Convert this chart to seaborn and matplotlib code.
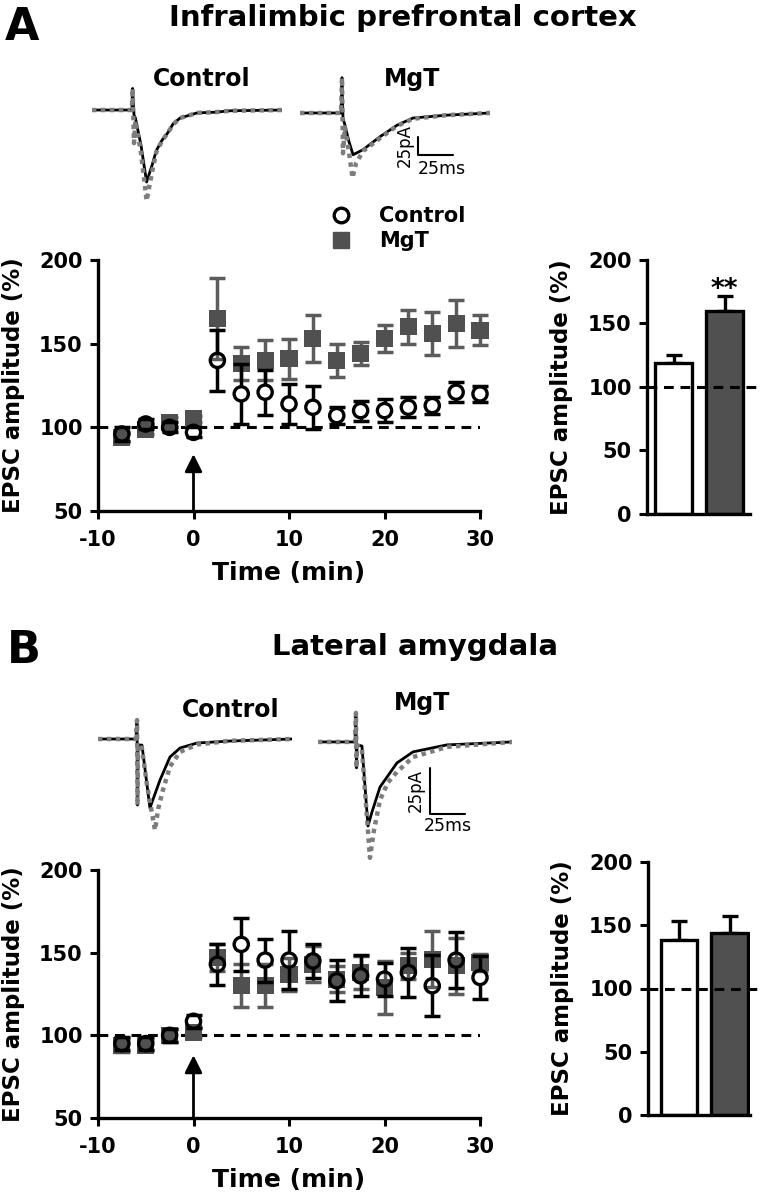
import numpy as np
import matplotlib
matplotlib.use("Agg")
import matplotlib.pyplot as plt
import seaborn as sns
from matplotlib.lines import Line2D

W, H = 761, 1199

# ---- time course data (% of baseline EPSC amplitude) ----
time_min = [-7.5, -5, -2.5, 0, 2.5, 5, 7.5, 10, 12.5, 15, 17.5, 20, 22.5, 25, 27.5, 30]

il_ctrl = [96, 102, 100, 97, 140, 120, 121, 114, 112, 107, 110, 110, 112, 113, 121, 120]
il_ctrl_sem = [4, 3, 3, 3, 18, 18, 13.5, 12, 13, 5, 6, 7, 6, 5, 6, 5]
il_mgt = [94, 99, 103, 105, 165, 138, 140, 141, 153, 140, 144, 153, 160, 156, 162, 158]
il_mgt_sem = [3, 3, 3, 2, 24, 10, 12, 12, 14, 10, 7, 8, 10, 13, 14, 9]

la_ctrl = [95, 95, 100, 108.5, 143, 155, 145.5, 145.5, 145, 133, 136, 134, 138, 130, 145.5, 135]
la_ctrl_sem = [4, 4, 4, 4, 12.5, 16, 13, 17.5, 10.5, 12.5, 12.5, 10, 15, 18.5, 17, 13]
la_mgt = [94, 94, 100, 102, 147, 130, 130, 137, 143, 134, 138, 129, 142, 146, 142, 144]
la_mgt_sem = [4, 3, 4, 3, 8, 13, 13, 10, 11, 8, 10, 16, 8, 17, 17, 5]

# ---- summary bars ----
groups = ["Control", "MgT"]
il_bar = [119, 160]
il_bar_sem = [6, 12]
la_bar = [138, 144]
la_bar_sem = [15.5, 13.5]

# ---- example traces (ms, pA) ----
il_c_t = [0, 28.5, 29, 30, 31, 35, 39, 43, 46, 50, 54, 58, 63, 70, 75, 88, 99, 136]
il_c_black = [0, 0, 30, -7, -11, -49, -100, -76, -56, -42, -32, -19, -11, -7, -4, -3, -1, 0]
il_c_gray = [0, 0, 30, -46, -15, -60, -126, -85, -58, -43, -32, -20, -11, -7, -4, -3, -1, 0]

il_m_t_black = [0, 29.3, 30, 30.7, 32.1, 35, 37.9, 45, 57.1, 69.3, 80.7, 105, 135.7]
il_m_black = [0, 0, 49, -7, -17, -40, -58, -51, -33, -17, -7, -3, 0]
il_m_t_gray = [0, 29.3, 30, 30.7, 32.1, 35, 37.5, 40, 45, 57.1, 69.3, 80.7, 105, 135.7]
il_m_gray = [0, 0, 49, -56, -20, -55, -90, -70, -53, -35, -18, -8, -3, 0]

la_c_t_black = [0, 27.1, 27.9, 28.2, 28.6, 31.4, 37.1, 44.3, 51.4, 58.6, 70.7, 94.3, 138.6]
la_c_black = [0, 0, 10.3, -35.9, -3.3, -3.3, -37.5, -22.3, -9.8, -4.9, -2.2, -1.1, 0]
la_c_t_gray = [0, 27.1, 27.9, 28.2, 28.6, 31.4, 35, 40.7, 43, 46.4, 51.4, 58.6, 70.7, 94.3, 138.6]
la_c_gray = [0, 0, 10.3, -35.9, -3.3, -5, -25, -49.5, -38, -27.7, -15, -7, -3, -1, 0]

la_m_t_black = [0, 26.4, 27.1, 27.5, 27.9, 31.4, 35.7, 38.6, 44.3, 56.4, 67.9, 92.1, 138.6]
la_m_black = [0, 0, 15.8, -14.1, -1.6, -2.2, -45.7, -38, -24.5, -11.4, -5.4, -1.6, 0]
la_m_t_gray = [0, 26.4, 27.1, 27.5, 27.9, 31.4, 37.1, 40, 44.3, 50, 56.4, 67.9, 92.1, 138.6]
la_m_gray = [0, 0, 15.8, -14.1, -1.6, -4, -63, -48, -31.5, -22, -16.3, -8.2, -2.7, 0]

SCALE_MS = 25
SCALE_PA = 25

MGT_COLOR = "#505050"
MGT_ERR = "#5c5c5c"

sns.set_style("ticks")
plt.rcParams["font.family"] = ["DejaVu Sans"]
plt.rcParams.update({
    "font.weight": "bold",
    "axes.labelweight": "bold",
    "axes.unicode_minus": False,
    "text.color": "black",
    "axes.labelcolor": "black",
    "xtick.color": "black",
    "ytick.color": "black",
    "axes.edgecolor": "black",
})

fig = plt.figure(figsize=(W / 100, H / 100), dpi=100)


def px_axes(x0, y0, x1, y1):
    return fig.add_axes([x0 / W, 1 - y1 / H, (x1 - x0) / W, (y1 - y0) / H])


def fig_text(x, y, s, **kw):
    fig.text(x / W, 1 - y / H, s, **kw)


def style_axes(ax):
    sns.despine(ax=ax)
    for sp in ["left", "bottom"]:
        ax.spines[sp].set_linewidth(2.4)
    ax.tick_params(direction="out", length=6, width=2.2, labelsize=15)
    ax.tick_params(axis="y", pad=5)
    ax.tick_params(axis="x", pad=8)


def draw_trace(ax, tb, yb, tg, yg, xlim, ylim):
    sns.lineplot(x=tb, y=yb, ax=ax, color="black", lw=2.0, estimator=None, sort=False)
    sns.lineplot(x=tg, y=yg, ax=ax, color="#7d7d7d", lw=3.2, linestyle=(0, (1, 1)),
                 estimator=None, sort=False)
    ax.set_xlim(xlim)
    ax.set_ylim(ylim)
    ax.axis("off")


def scale_bar(ax, sx, sy, pa_off, ms_off):
    ax.plot([sx, sx, sx + SCALE_MS], [sy + SCALE_PA, sy, sy], color="black", lw=1.5)
    ax.annotate(f"{SCALE_PA}pA", xy=(sx, sy + SCALE_PA / 2), xytext=pa_off,
                textcoords="offset points", rotation=90, ha="center", va="center",
                fontsize=12, fontweight="normal")
    ax.annotate(f"{SCALE_MS}ms", xy=(sx + SCALE_MS / 2, sy), xytext=ms_off,
                textcoords="offset points", ha="center", va="center",
                fontsize=12.5, fontweight="normal")


def time_course(ax, ctrl, ctrl_sem, mgt, mgt_sem, arrow_tip):
    ax.set_xlim(-10, 30)
    ax.set_ylim(50, 200)
    ax.plot([-10, 30], [100, 100], ls=(0, (3.2, 2.2)), color="black", lw=2.2, zorder=1)

    ax.errorbar(time_min, mgt, yerr=mgt_sem, fmt="none", ecolor=MGT_ERR,
                elinewidth=2.5, capsize=6, capthick=2.5, zorder=2, clip_on=False)
    sns.scatterplot(x=time_min, y=mgt, marker="s", s=150, color=MGT_COLOR,
                    edgecolor="none", ax=ax, zorder=3, legend=False, clip_on=False)

    # control error bars start at the circle edge (hollow symbols)
    c = np.array(ctrl, dtype=float)
    e = np.array(ctrl_sem, dtype=float)
    t = np.array(time_min, dtype=float)
    r = 7.5 / (ax.get_position().height * H / 150)
    m = e > r
    ax.vlines(t[m], c[m] + r, c[m] + e[m], color="black", lw=2.5, zorder=4, clip_on=False)
    ax.vlines(t[m], c[m] - e[m], c[m] - r, color="black", lw=2.5, zorder=4, clip_on=False)
    ax.plot(t, c + e, ls="none", marker="_", ms=12, mew=2.5, color="black", zorder=4, clip_on=False)
    ax.plot(t, c - e, ls="none", marker="_", ms=12, mew=2.5, color="black", zorder=4, clip_on=False)
    ax.scatter(t, c, s=105, facecolors="none", edgecolors="black", linewidths=2.4,
               zorder=5, clip_on=False)

    ax.annotate("", xy=(0, arrow_tip), xytext=(0, 50),
                arrowprops=dict(arrowstyle="-|>,head_length=0.7,head_width=0.35",
                                color="black", lw=2, shrinkA=0, shrinkB=0,
                                mutation_scale=15), zorder=6)

    ax.set_xticks([-10, 0, 10, 20, 30])
    ax.set_yticks([50, 100, 150, 200])
    style_axes(ax)
    ax.set_xlabel("Time (min)", fontsize=18)
    ax.set_ylabel("EPSC amplitude (%)", fontsize=16.5)
    ax.xaxis.set_label_coords(0.5, -0.2)
    ax.yaxis.set_label_coords(-0.19, 0.5)


def bar_panel(ax, vals, sems, xlim, line_end):
    sns.barplot(x=groups, y=vals, hue=groups,
                palette={"Control": "white", "MgT": MGT_COLOR}, saturation=1,
                edgecolor="black", linewidth=2.4, width=0.72, legend=False,
                errorbar=None, ax=ax, zorder=2)
    ax.errorbar([0, 1], vals, yerr=[[0, 0], sems], fmt="none", ecolor="black",
                elinewidth=2.4, capsize=6, capthick=2.4, zorder=1)
    ax.plot([xlim[0], line_end], [100, 100], ls=(0, (3.2, 2.2)), color="black",
            lw=2.2, zorder=3, clip_on=False)
    ax.set_xlim(xlim)
    ax.set_ylim(0, 200)
    ax.set_yticks([0, 50, 100, 150, 200])
    ax.set_xticks([])
    ax.set_xlabel("")
    style_axes(ax)
    ax.set_ylabel("EPSC amplitude (%)", fontsize=16.5)
    w = ax.get_position().width * W
    ax.yaxis.set_label_coords(-74 / w, 0.5)


# ================= Panel A =================
fig_text(5, 40, "A", fontsize=32, fontweight="bold", va="baseline", ha="left")
fig_text(403, 26, "Infralimbic prefrontal cortex", fontsize=21, ha="center", va="baseline")
fig_text(202, 86, "Control", fontsize=17, ha="center", va="baseline")
fig_text(412, 86, "MgT", fontsize=17, ha="center", va="baseline")

ax = px_axes(92, 70, 282, 215)
draw_trace(ax, il_c_t, il_c_black, il_c_t, il_c_gray, (0, 135.7), (-145.8, 55.6))
ax = px_axes(300, 70, 490, 215)
draw_trace(ax, il_m_t_black, il_m_black, il_m_t_gray, il_m_gray, (0, 135.7), (-141.7, 59.7))
scale_bar(ax, 84.3, -58.3, (-9.5, 0), (4.5, -10))

ax_a = px_axes(98, 260, 480, 511)
time_course(ax_a, il_ctrl, il_ctrl_sem, il_mgt, il_mgt_sem, 84)

ax_ab = px_axes(647, 260, 750, 514)
bar_panel(ax_ab, il_bar, il_bar_sem, (-0.52, 1.5), 1.75)
ax_ab.text(1, 171, "**", ha="center", va="baseline", fontsize=19, fontweight="bold")

fig.legend(handles=[Line2D([], [], marker="o", ls="none", mfc="white", mec="black", mew=2.4, ms=10.5),
                    Line2D([], [], marker="s", ls="none", color=MGT_COLOR, ms=11)],
           labels=groups, loc="upper left", bbox_to_anchor=(331 / W, 1 - 206 / H),
           frameon=False, prop={"weight": "bold", "size": 15}, handlelength=1.0,
           handletextpad=1.3, labelspacing=0.25, borderpad=0, borderaxespad=0)

# ================= Panel B =================
fig_text(7, 663, "B", fontsize=32, fontweight="bold", va="baseline", ha="left")
fig_text(415, 655, "Lateral amygdala", fontsize=21, ha="center", va="baseline")
fig_text(231, 717, "Control", fontsize=17, ha="center", va="baseline")
fig_text(422, 710, "MgT", fontsize=17, ha="center", va="baseline")

ax = px_axes(98, 700, 292, 870)
draw_trace(ax, la_c_t_black, la_c_black, la_c_t_gray, la_c_gray, (0, 138.6), (-71.2, 21.2))
ax = px_axes(318, 700, 512, 870)
draw_trace(ax, la_m_t_black, la_m_black, la_m_t_gray, la_m_gray, (0, 138.6), (-69.6, 22.8))
scale_bar(ax, 80, -39.1, (-10, 0), (0, -9))

ax_b = px_axes(98, 870, 480, 1118)
time_course(ax_b, la_ctrl, la_ctrl_sem, la_mgt, la_mgt_sem, 88)

ax_bb = px_axes(648, 862, 750, 1115)
bar_panel(ax_bb, la_bar, la_bar_sem, (-0.61, 1.4), 1.58)

fig.savefig("out.png", dpi=100)
